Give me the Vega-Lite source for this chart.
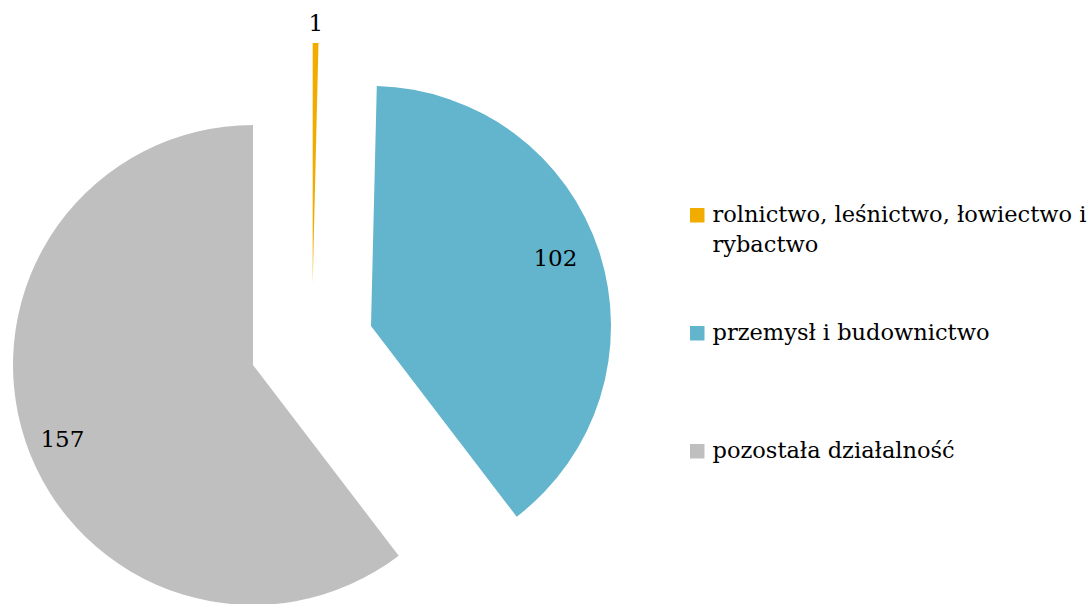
{
  "$schema": "https://vega.github.io/schema/vega-lite/v6.json",
  "autosize": {"type": "none"},
  "padding": {"left": 0, "top": 86, "right": 463, "bottom": 0},
  "width": 624,
  "height": 518,
  "background": "white",
  "data": {
    "values": [
      {"category": "rolnictwo, leśnictwo, łowiectwo i rybactwo", "value": 1},
      {"category": "przemysł i budownictwo", "value": 102},
      {"category": "pozostała działalność", "value": 157}
    ]
  },
  "transform": [
    {"stack": "value", "groupby": [], "sort": [{"field": "category", "order": "descending"}], "as": ["v0", "v1"]},
    {"calculate": "(datum.v0 + datum.v1) / 2", "as": "vmid"}
  ],
  "config": {"view": {"stroke": null}, "font": "DejaVu Serif", "style": {"guide-label": {"lineHeight": 30}}},
  "encoding": {
    "theta": {"field": "v0", "type": "quantitative", "scale": {"domain": [0, 260]}},
    "color": {
      "field": "category",
      "type": "nominal",
      "scale": {
        "domain": ["rolnictwo, leśnictwo, łowiectwo i rybactwo", "przemysł i budownictwo", "pozostała działalność"],
        "range": ["#F2AC00", "#62B5CC", "#BFBFBF"]
      },
      "legend": {
        "orient": "none",
        "legendX": 686,
        "legendY": 118,
        "title": null,
        "symbolType": "square",
        "symbolSize": 210,
        "symbolStrokeWidth": 0,
        "labelFont": "DejaVu Serif",
        "labelFontSize": 22.5,
        "labelColor": "#000000",
        "labelLimit": 500,
        "gridAlign": "all",
        "rowPadding": 65,
        "labelOffset": 4,
        "labelExpr": "indexof(datum.label, 'rolnictwo') == 0 ? ['rolnictwo, leśnictwo, łowiectwo i', 'rybactwo'] : datum.label"
      }
    }
  },
  "layer": [
    {
      "transform": [{"filter": "datum.category == 'rolnictwo, leśnictwo, łowiectwo i rybactwo'"}],
      "mark": {"type": "arc", "radius": 240, "xOffset": 0.7, "yOffset": -62},
      "encoding": {"theta2": {"field": "v1"}}
    },
    {
      "transform": [{"filter": "datum.category == 'przemysł i budownictwo'"}],
      "mark": {"type": "arc", "radius": 240, "xOffset": 59, "yOffset": -19},
      "encoding": {"theta2": {"field": "v1"}}
    },
    {
      "transform": [{"filter": "datum.category == 'pozostała działalność'"}],
      "mark": {"type": "arc", "radius": 240, "xOffset": -59, "yOffset": 20},
      "encoding": {"theta2": {"field": "v1"}}
    },
    {
      "transform": [{"filter": "datum.category == 'rolnictwo, leśnictwo, łowiectwo i rybactwo'"}],
      "mark": {"type": "text", "radius": 321, "fontSize": 23, "baseline": "middle", "align": "center"},
      "encoding": {
        "theta": {"field": "vmid", "type": "quantitative"},
        "text": {"field": "value", "type": "quantitative"},
        "color": {"value": "#000000"}
      }
    },
    {
      "transform": [{"filter": "datum.category == 'przemysł i budownictwo'"}],
      "mark": {"type": "text", "radius": 258, "thetaOffset": -0.024, "fontSize": 23, "baseline": "middle", "align": "center"},
      "encoding": {
        "theta": {"field": "vmid", "type": "quantitative"},
        "text": {"field": "value", "type": "quantitative"},
        "color": {"value": "#000000"}
      }
    },
    {
      "transform": [{"filter": "datum.category == 'pozostała działalność'"}],
      "mark": {"type": "text", "radius": 267, "thetaOffset": -0.037, "fontSize": 23, "baseline": "middle", "align": "center"},
      "encoding": {
        "theta": {"field": "vmid", "type": "quantitative"},
        "text": {"field": "value", "type": "quantitative"},
        "color": {"value": "#000000"}
      }
    }
  ]
}
